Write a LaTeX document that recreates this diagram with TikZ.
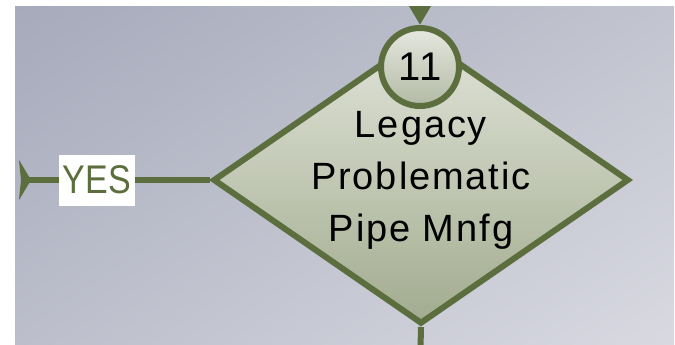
\documentclass[tikz,border=0pt]{standalone}
\usepackage{fontspec}
\usetikzlibrary{shapes.geometric,arrows.meta,shadings}

\newfontfamily\flowfont[LetterSpace=5]{Liberation Sans}
\newfontfamily\yesfont[FakeStretch=0.85]{Liberation Sans}

\definecolor{flowgreen}{RGB}{92,110,62}
\definecolor{bgTL}{RGB}{166,170,187}
\definecolor{bgTR}{RGB}{194,196,207}
\definecolor{bgBL}{RGB}{188,190,203}
\definecolor{bgBR}{RGB}{216,217,225}
\definecolor{decTop}{RGB}{224,227,216}
\definecolor{decBot}{RGB}{162,172,143}
\definecolor{numTop}{RGB}{230,232,224}
\definecolor{numBot}{RGB}{178,186,164}

\tikzset{
	flow/.style={draw=flowgreen, line width=6pt},
	decision/.style={diamond, draw=flowgreen, line width=6pt, line join=miter,
		top color=decTop, bottom color=decBot, aspect=1.45, inner sep=-12pt,
		minimum width=416pt, minimum height=288pt, align=center,
		font=\flowfont\fontsize{38}{52}\selectfont},
	stepnum/.style={circle, draw=flowgreen, line width=6pt,
		top color=numTop, bottom color=numBot, minimum size=78pt, inner sep=0pt,
		font=\flowfont\fontsize{40}{44}\selectfont},
	yeslabel/.style={fill=white, inner sep=0pt, minimum width=76pt,
		minimum height=51pt, text=flowgreen,
		font=\yesfont\fontsize{40}{44}\selectfont}
}

\begin{document}
\begin{tikzpicture}[x=1pt, y=-1pt]
	\useasboundingbox (0,0) rectangle (675,345);
	\clip (15,7) rectangle (674,345);
	\shade[upper left=bgTL, upper right=bgTR, lower left=bgBL, lower right=bgBR]
		(15,7) rectangle (674,345);
	
	\coordinate (In) at (420,-20);
	\coordinate (Out) at (420,370);
	\coordinate (YesEnd) at (19,180);
	
	\node[decision] (Q11) at (421,180) {Legacy\\Problematic\\Pipe Mnfg};
	\node[stepnum] (N11) at (420,67) {11};
	
	\draw[flow, -{Stealth[length=22pt, width=24pt, inset=0pt]}] (In) -- (N11.north);
	\draw[flow] (Q11.south) -- (Out);
	\draw[flow, -{Stealth[reversed, length=12pt, width=40pt, inset=2pt]}]
		(Q11.west) -- node[yeslabel, pos=0.593] (Yes) {YES} (YesEnd);
	
\end{tikzpicture}
\end{document}
